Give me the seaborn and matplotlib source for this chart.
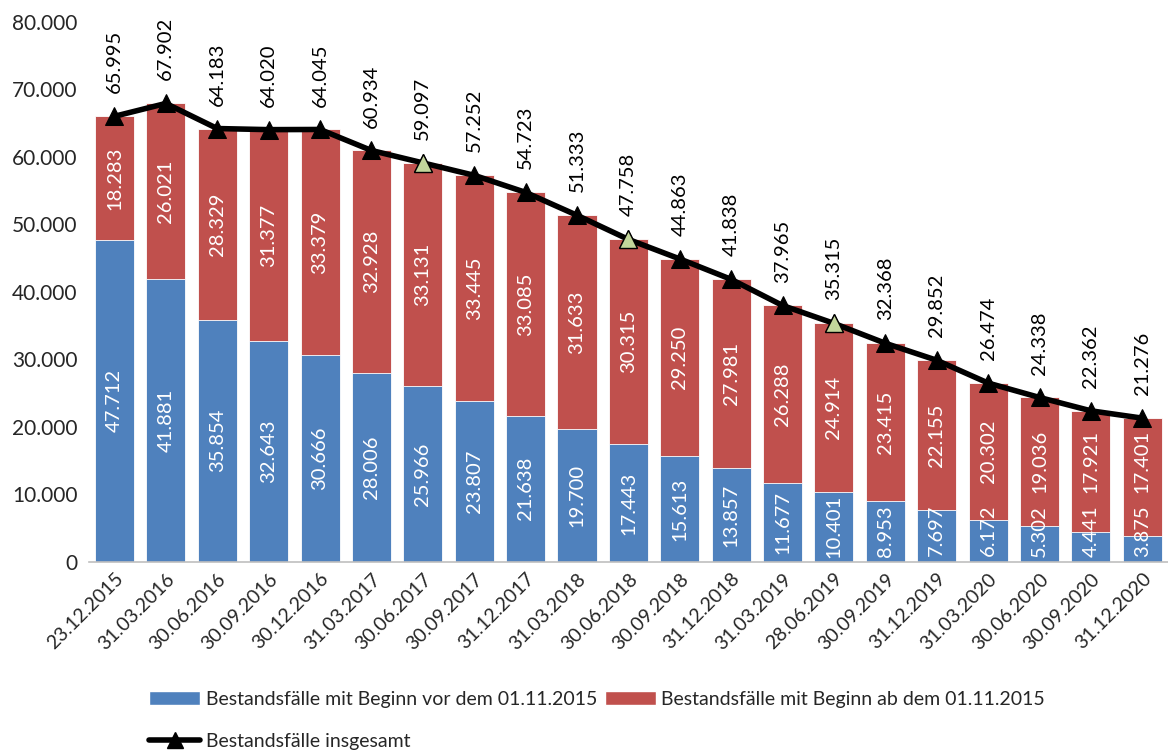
import numpy as np
import pandas as pd
import matplotlib
matplotlib.use("Agg")
import matplotlib.pyplot as plt
import seaborn as sns
from matplotlib.lines import Line2D
from matplotlib.patches import Patch
from matplotlib.ticker import FuncFormatter, FixedLocator

# ---- data ----
dates = ["23.12.2015", "31.03.2016", "30.06.2016", "30.09.2016", "30.12.2016",
         "31.03.2017", "30.06.2017", "30.09.2017", "31.12.2017", "31.03.2018",
         "30.06.2018", "30.09.2018", "31.12.2018", "31.03.2019", "28.06.2019",
         "30.09.2019", "31.12.2019", "31.03.2020", "30.06.2020", "30.09.2020",
         "31.12.2020"]
vor = [47712, 41881, 35854, 32643, 30666, 28006, 25966, 23807, 21638, 19700,
       17443, 15613, 13857, 11677, 10401, 8953, 7697, 6172, 5302, 4441, 3875]
ab = [18283, 26021, 28329, 31377, 33379, 32928, 33131, 33445, 33085, 31633,
      30315, 29250, 27981, 26288, 24914, 23415, 22155, 20302, 19036, 17921, 17401]
gesamt = [65995, 67902, 64183, 64020, 64045, 60934, 59097, 57252, 54723, 51333,
          47758, 44863, 41838, 37965, 35315, 32368, 29852, 26474, 24338, 22362, 21276]
highlight = ["30.06.2017", "30.06.2018", "28.06.2019"]

lab_vor = "Bestandsfälle mit Beginn vor dem 01.11.2015"
lab_ab = "Bestandsfälle mit Beginn ab dem 01.11.2015"
lab_ges = "Bestandsfälle insgesamt"

BLUE = "#4f81bd"
RED = "#c0504d"
GREEN = "#c3d69b"

def de(v):
    return f"{int(v):,}".replace(",", ".")

df = pd.DataFrame({"datum": dates, "vor": vor, "ab": ab, "gesamt": gesamt})
df["pos"] = np.arange(len(df))

sns.set_style("white")
plt.rcParams["font.family"] = ["Lato", "DejaVu Sans"]

fig = plt.figure(figsize=(11.68, 7.51), dpi=100)
ax = fig.add_axes([0.076, 0.252, 0.924, 0.719])

# stacked bars: red total first, blue part on top of it
sns.barplot(data=df, x="datum", y="gesamt", color=RED, width=0.76,
            saturation=1, ax=ax, edgecolor="white", linewidth=0.6)
sns.barplot(data=df, x="datum", y="vor", color=BLUE, width=0.76,
            saturation=1, ax=ax, edgecolor="white", linewidth=0.6)

# total line
sns.lineplot(data=df, x="pos", y="gesamt", color="black", linewidth=4,
             marker="^", markersize=13, markeredgecolor="black",
             markerfacecolor="black", ax=ax, sort=False)
hl = df[df["datum"].isin(highlight)]
ax.plot(hl["pos"], hl["gesamt"], linestyle="none", marker="^", markersize=13,
        markerfacecolor=GREEN, markeredgecolor="black", markeredgewidth=1, zorder=5)

# labels (small segments: keep labels from running off the bar / into each other)
for i, r in df.iterrows():
    ax.text(i, max(r["vor"] / 2, 4600), de(r["vor"]), rotation=90, ha="center",
            va="center", color="white", fontsize=14.5)
    ax.text(i, max(r["vor"] + r["ab"] / 2, 14900), de(r["ab"]), rotation=90,
            ha="center", va="center", color="white", fontsize=14.5)
    ax.text(i, r["gesamt"] + 3400, de(r["gesamt"]), rotation=90, ha="center",
            va="bottom", color="black", fontsize=14.5)

ax.set_ylim(0, 80000)
ax.set_xlim(-0.5, len(df) - 0.5)
ax.set_yticks(np.arange(0, 80001, 10000))
ax.yaxis.set_major_formatter(FuncFormatter(lambda v, p: de(v)))
ax.set_xlabel("")
ax.set_ylabel("")
for s in ["top", "right", "left"]:
    ax.spines[s].set_visible(False)
ax.spines["bottom"].set_color("#bfbfbf")
ax.spines["bottom"].set_linewidth(1.2)

ax.tick_params(axis="y", length=0, labelsize=15, pad=8)
ax.tick_params(axis="x", which="major", length=0, labelsize=14, pad=6)
ax.xaxis.set_minor_locator(FixedLocator(np.arange(-0.5, len(df), 1)))
ax.tick_params(axis="x", which="minor", length=6, color="#bfbfbf", width=1.2)
plt.setp(ax.get_xticklabels(), rotation=45, ha="right", rotation_mode="anchor")

handles = [Patch(facecolor=BLUE, label=lab_vor),
           Line2D([], [], color="black", linewidth=4, marker="^", markersize=11,
                  label=lab_ges),
           Patch(facecolor=RED, label=lab_ab)]
fig.legend(handles=handles, ncol=2, loc="lower left", bbox_to_anchor=(0.113, -0.022),
           frameon=False, fontsize=14, handlelength=2.6, handleheight=0.7,
           columnspacing=0.4, handletextpad=0.3, labelspacing=1.3)

fig.savefig("out.png", dpi=100)
